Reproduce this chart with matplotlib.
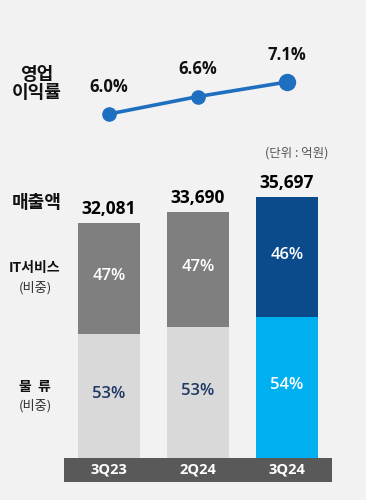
import matplotlib
matplotlib.use("Agg")
import matplotlib.pyplot as plt
from matplotlib.patches import Rectangle

categories = ["3Q23", "2Q24", "3Q24"]
revenue = [32081, 33690, 35697]
it_share = [47, 47, 46]
logi_share = [53, 53, 54]
op_margin = [6.0, 6.6, 7.1]

KR = ["Noto Sans CJK KR", "DejaVu Sans"]
NUM = ["Open Sans", "Noto Sans CJK KR", "DejaVu Sans"]

W, H = 366, 500
fig = plt.figure(figsize=(W / 100, H / 100), dpi=100)
fig.patch.set_facecolor("#f2f2f2")

def fx(px):
    return px / W
def fy(py):
    return 1 - py / H

x0_px, dx_px = 109.0, 89.0
xl = (-x0_px / dx_px, (W - x0_px) / dx_px)
xs = list(range(len(categories)))

# ---- bar axes ----
unit = 261.0 / revenue[2]   # px per unit
ymin = -24.0 / unit
ymax = 40000
bottom_px = 482
height_px = (ymax - ymin) * unit
ax = fig.add_axes([0, fy(bottom_px), 1, height_px / H])
ax.set_xlim(*xl)
ax.set_ylim(ymin, ymax)
ax.axis("off")

it_cols = ["#7f7f7f", "#7f7f7f", "#0b4a8b"]
lg_cols = ["#d9d9d9", "#d9d9d9", "#00b0f0"]
lg_txt = ["#1f3864", "#1f3864", "white"]
bw = 62.0 / dx_px
for i, x in enumerate(xs):
    lg = revenue[i] * logi_share[i] / 100
    it = revenue[i] - lg
    ax.bar(x, lg, width=bw, color=lg_cols[i], bottom=0)
    ax.bar(x, it, width=bw, color=it_cols[i], bottom=lg)
    ax.text(x, lg + it / 2 + 300, f"{it_share[i]}%", ha="center", va="center",
            color="white", fontsize=12, family=NUM, fontweight="semibold")
    ax.text(x, lg / 2 + 300, f"{logi_share[i]}%", ha="center", va="center",
            color=lg_txt[i], fontsize=12, family=NUM, fontweight="semibold")
    ax.text(x, revenue[i] + 14 / unit, f"{revenue[i]:,}", ha="center", va="center",
            color="black", fontsize=12.5, family=NUM, fontweight="bold")

# category band
band_l = (64 - x0_px) / dx_px
band_r = (332 - x0_px) / dx_px
ax.add_patch(Rectangle((band_l, ymin), band_r - band_l, -ymin, color="#595959", lw=0))
for i, x in enumerate(xs):
    ax.text(x, ymin / 2, categories[i], ha="center", va="center", color="white",
            fontsize=10.5, family=NUM, fontweight="bold")

# ---- line axes ----
top_px, bot_px = 40, 140
pxp = 29.1
lax = fig.add_axes([0, fy(bot_px), 1, (bot_px - top_px) / H])
lax.set_xlim(*xl)
lax.set_ylim(6.0 - (bot_px - 114) / pxp, 7.1 + (82 - top_px) / pxp)
lax.axis("off")
lax.patch.set_alpha(0)
lc = "#1f6fc1"
lax.plot(xs, op_margin, color=lc, lw=2.6, zorder=2)
lax.plot(xs[:-1], op_margin[:-1], "o", color=lc, ms=9.5, zorder=3)
lax.plot(xs[-1:], op_margin[-1:], "o", color=lc, ms=11.5, zorder=3)
for i, x in enumerate(xs):
    lax.annotate(f"{op_margin[i]:.1f}%", (x, op_margin[i]), xytext=(0, 19.5),
                 textcoords="offset points", ha="center", va="center",
                 fontsize=12, family=NUM, fontweight="bold", color="#111111",
                 annotation_clip=False)

# ---- left labels ----
def lab(px, py, s, size=11.5, weight="bold", color="#111111"):
    fig.text(fx(px), fy(py), s, ha="center", va="center", fontsize=size,
             family=KR, fontweight=weight, color=color)

lab(37, 75, "영업", size=13)
lab(37, 93, "이익률", size=13)
lab(37, 202, "매출액", size=13)
lab(35, 268, "IT서비스", size=10)
lab(35, 288, "(비중)", size=9.5, weight="normal", color="#333333")
lab(35, 387, "물  류", size=10)
lab(35, 406, "(비중)", size=9.5, weight="normal", color="#333333")
lab(297, 153, "(단위 : 억원)", size=9, weight="normal", color="#555555")

fig.savefig("out.png", dpi=100, facecolor=fig.get_facecolor())
